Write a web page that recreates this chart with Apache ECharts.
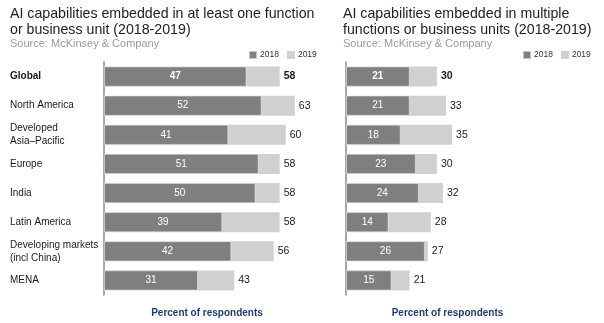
<!DOCTYPE html>
<html>
<head>
<meta charset="utf-8">
<script src="https://cdn.jsdelivr.net/npm/echarts@6/dist/echarts.min.js"></script>
<style>
  html, body { margin: 0; padding: 0; background: #fff; }
  #chart { width: 604px; height: 323px; }
</style>
</head>
<body>
<div id="chart"></div>
<script>
// Regions, top to bottom
const regions = ['Global', 'North America', 'Developed\nAsia–Pacific', 'Europe', 'India',
  'Latin America', 'Developing markets\n(incl China)', 'MENA'];

// AI embedded in at least one function or business unit (% of respondents)
const atLeastOne2018 = [47, 52, 41, 51, 50, 39, 42, 31];
const atLeastOne2019 = [58, 63, 60, 58, 58, 58, 56, 43];

// AI embedded in multiple functions or business units (% of respondents)
const multiple2018 = [21, 21, 18, 23, 24, 14, 26, 15];
const multiple2019 = [30, 33, 35, 30, 32, 28, 27, 21];

const years = ['2018', '2019'];

const FONT = '"Liberation Sans", Arial, sans-serif';
const DARK = '#7f7f7f';
const LIGHT = '#d0d0d0';

// Bold styling for the first (Global) row
function withBoldFirst(values, extra) {
  return values.map((v, i) => i === 0
    ? { value: v, label: Object.assign({ fontWeight: 'bold' }, extra || {}) }
    : v);
}

function panelSeries(idx, v2018, v2019) {
  return [
    {
      name: years[1], type: 'bar', xAxisIndex: idx, yAxisIndex: idx,
      data: withBoldFirst(v2019), barWidth: 20, barGap: '-100%',
      itemStyle: { color: LIGHT },
      label: { show: true, position: 'right', distance: 4, color: '#1a1a1a',
        fontSize: 10.5, fontFamily: FONT },
      silent: true, animation: false
    },
    {
      name: years[0], type: 'bar', xAxisIndex: idx, yAxisIndex: idx,
      data: withBoldFirst(v2018), barWidth: 20, barGap: '-100%', z: 3,
      itemStyle: { color: DARK, borderColor: 'rgba(255,255,255,0.55)', borderWidth: 0.8 },
      label: { show: true, position: 'inside', color: '#ffffff',
        fontSize: 10, fontFamily: FONT },
      silent: true, animation: false
    }
  ];
}

function valueAxis(idx, max) {
  return {
    type: 'value', gridIndex: idx, min: 0, max: max,
    axisLine: { show: false }, axisTick: { show: false },
    axisLabel: { show: false }, splitLine: { show: false },
    name: 'Percent of respondents', nameLocation: 'middle', nameGap: 13,
    nameTextStyle: { color: '#1f3b73', fontWeight: 'bold', fontSize: 10, fontFamily: FONT }
  };
}

function categoryAxis(idx, showLabels) {
  return {
    type: 'category', gridIndex: idx, data: regions, inverse: true,
    axisLine: { show: true, lineStyle: { color: '#8a8a8a', width: 1.5 } },
    axisTick: { show: false },
    axisLabel: {
      show: showLabels, align: 'left', margin: 94, color: '#1a1a1a',
      fontSize: 10, fontFamily: FONT, lineHeight: 13,
      formatter: (v, i) => i === 0 ? '{b|' + v + '}' : v,
      rich: { b: { fontWeight: 'bold', fontSize: 10, fontFamily: FONT, color: '#1a1a1a' } }
    }
  };
}

function panelTitle(text, left) {
  return {
    text: text, subtext: 'Source: McKinsey & Company', left: left, top: 6,
    padding: 0, itemGap: 0,
    textStyle: { fontSize: 14.2, fontWeight: 'normal', color: '#222', lineHeight: 16, fontFamily: FONT },
    subtextStyle: { fontSize: 11, color: '#9a9a9a', fontFamily: FONT }
  };
}

function panelLegend(left) {
  return {
    data: years, left: left, top: 50, padding: 0, itemWidth: 8, itemHeight: 8, itemGap: 8,
    icon: 'rect', selectedMode: false,
    textStyle: { fontSize: 8.5, color: '#333', fontFamily: FONT, padding: [0, 0, 0, -2] }
  };
}

const chart = echarts.init(document.getElementById('chart'), null, { renderer: 'canvas' });
chart.setOption({
  backgroundColor: '#fff',
  animation: false,
  title: [
    panelTitle('AI capabilities embedded in at least one function\nor business unit (2018-2019)', 10),
    panelTitle('AI capabilities embedded in multiple\nfunctions or business units (2018-2019)', 343)
  ],
  legend: [panelLegend(248), panelLegend(522)],
  grid: [
    { left: 104, top: 62, width: 206, bottom: 28, containLabel: false, outerBoundsMode: 'none' },
    { left: 346, top: 62, width: 203, bottom: 28, containLabel: false, outerBoundsMode: 'none' }
  ],
  xAxis: [valueAxis(0, 68), valueAxis(1, 67)],
  yAxis: [categoryAxis(0, true), categoryAxis(1, false)],
  series: panelSeries(0, atLeastOne2018, atLeastOne2019)
    .concat(panelSeries(1, multiple2018, multiple2019))
});
</script>
</body>
</html>
